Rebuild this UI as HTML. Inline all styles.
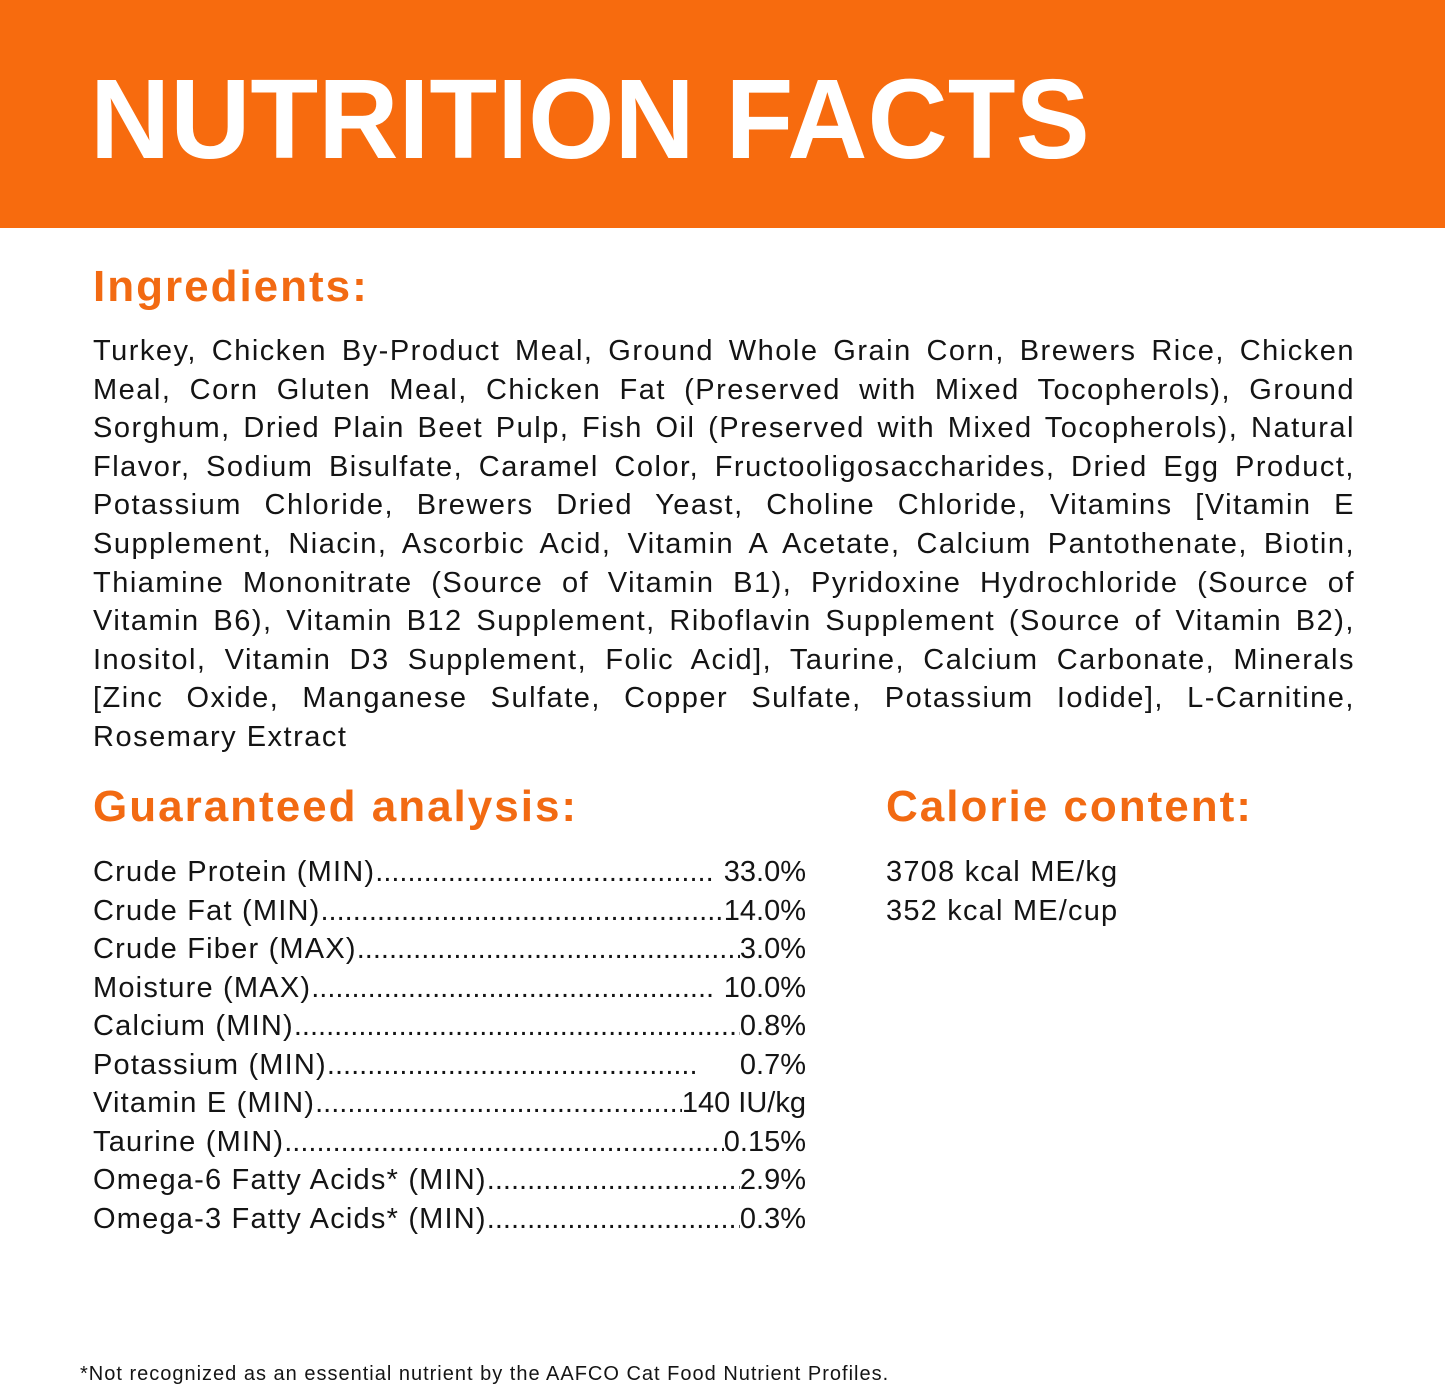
<!DOCTYPE html>
<html><head><meta charset="utf-8"><style>
*{margin:0;padding:0;box-sizing:border-box}
body{width:1445px;height:1390px;background:#fff;position:relative;overflow:hidden;font-family:"Liberation Sans",sans-serif;color:#141414}
.band{position:absolute;left:0;top:0;width:1445px;height:228px;background:#F76B0E}
.title{position:absolute;left:90px;top:54px;font-size:113px;font-weight:bold;color:#fff;white-space:nowrap;transform-origin:0 0;transform:scaleX(0.983);line-height:130px}
.h{position:absolute;font-weight:bold;color:#F26A12;font-size:44px;letter-spacing:2px;white-space:nowrap;line-height:50px}
.ing{position:absolute;left:93px;top:332px;width:1262px;font-size:29px;letter-spacing:1.5px;line-height:38.6px}
.ing div{text-align:justify;text-align-last:justify;white-space:nowrap;height:38.6px}
.ing div.last{text-align-last:left}
.ga{position:absolute;left:93px;top:853px;width:713px;font-size:29px;line-height:38.5px}
.row{display:flex;height:38.5px;white-space:nowrap;overflow:hidden}
.row span:first-child{letter-spacing:1.2px}
.row .d{flex:1;overflow:hidden;letter-spacing:0px}
.row .d::after{content:"........................................................................................................................................................"}
.cal{position:absolute;left:886px;top:853px;font-size:29px;letter-spacing:1.2px;line-height:38.5px}
.foot{position:absolute;left:80px;top:1362px;font-size:20px;letter-spacing:1px;line-height:24px}
</style></head><body>
<div class="band"></div>
<div class="title">NUTRITION FACTS</div>
<div class="h" style="left:93px;top:262px">Ingredients:</div>
<div class="ing">
<div>Turkey, Chicken By-Product Meal, Ground Whole Grain Corn, Brewers Rice, Chicken</div>
<div>Meal, Corn Gluten Meal, Chicken Fat (Preserved with Mixed Tocopherols), Ground</div>
<div>Sorghum, Dried Plain Beet Pulp, Fish Oil (Preserved with Mixed Tocopherols), Natural</div>
<div>Flavor, Sodium Bisulfate, Caramel Color, Fructooligosaccharides, Dried Egg Product,</div>
<div>Potassium Chloride, Brewers Dried Yeast, Choline Chloride, Vitamins [Vitamin E</div>
<div>Supplement, Niacin, Ascorbic Acid, Vitamin A Acetate, Calcium Pantothenate, Biotin,</div>
<div>Thiamine Mononitrate (Source of Vitamin B1), Pyridoxine Hydrochloride (Source of</div>
<div>Vitamin B6), Vitamin B12 Supplement, Riboflavin Supplement (Source of Vitamin B2),</div>
<div>Inositol, Vitamin D3 Supplement, Folic Acid], Taurine, Calcium Carbonate, Minerals</div>
<div>[Zinc Oxide, Manganese Sulfate, Copper Sulfate, Potassium Iodide], L-Carnitine,</div>
<div class="last">Rosemary Extract</div>
</div>
<div class="h" style="left:93px;top:782px">Guaranteed analysis:</div>
<div class="h" style="left:886px;top:782px">Calorie content:</div>
<div class="ga">
<div class="row"><span>Crude Protein (MIN)</span><span class="d"></span><span>&nbsp;33.0%</span></div>
<div class="row"><span>Crude Fat (MIN)</span><span class="d"></span><span>14.0%</span></div>
<div class="row"><span>Crude Fiber (MAX)</span><span class="d"></span><span>3.0%</span></div>
<div class="row"><span>Moisture (MAX)</span><span class="d"></span><span>&nbsp;10.0%</span></div>
<div class="row"><span>Calcium (MIN)</span><span class="d"></span><span>0.8%</span></div>
<div class="row"><span>Potassium (MIN)</span><span class="d"></span><span>&nbsp;&nbsp;&nbsp;&nbsp;&nbsp;0.7%</span></div>
<div class="row"><span>Vitamin E (MIN)</span><span class="d"></span><span>140 IU/kg</span></div>
<div class="row"><span>Taurine (MIN)</span><span class="d"></span><span>0.15%</span></div>
<div class="row"><span>Omega-6 Fatty Acids* (MIN)</span><span class="d"></span><span>2.9%</span></div>
<div class="row"><span>Omega-3 Fatty Acids* (MIN)</span><span class="d"></span><span>0.3%</span></div>
</div>
<div class="cal">3708 kcal ME/kg<br>352 kcal ME/cup</div>
<div class="foot">*Not recognized as an essential nutrient by the AAFCO Cat Food Nutrient Profiles.</div>
</body></html>
